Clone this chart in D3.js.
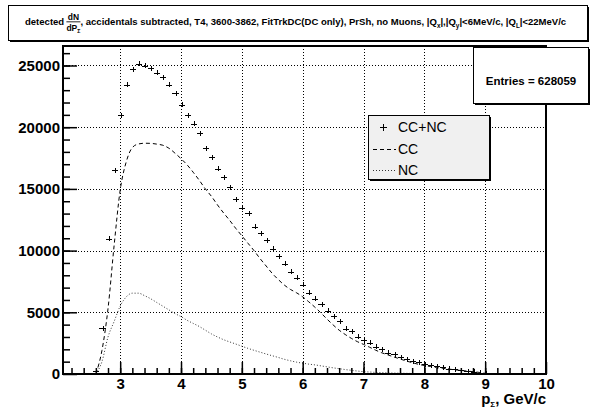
<!DOCTYPE html>
<html>
<head>
<meta charset="utf-8">
<script src="https://cdn.jsdelivr.net/npm/d3@7"></script>
<style>
  body { margin: 0; background: #fff; }
  svg { display: block; font-family: "Liberation Sans", Arial, Helvetica, sans-serif; }
</style>
</head>
<body>
<script>
// histogram binning (GeV/c): first bin centre and bin width
var binFirst = 2.61,
    binWidth = 0.1;

// CC+NC counts per bin, 2.6 ... 9.0 GeV/c
var ccnc = [270, 3700, 10960, 16520, 20960, 23430, 24700, 25160, 24970, 24770,
            24400, 24040, 23420, 22750, 21800, 20970, 20280, 19500, 18310, 17560,
            16650, 15950, 15140, 14180, 13480, 13020, 11940, 11400, 10830, 10150,
            9540, 8920, 8290, 7820, 7240, 6590, 6100, 5670, 5130, 4700,
            4290, 3670, 3460, 3020, 2755, 2540, 2210, 2025, 1725, 1620,
            1350, 1190, 1050, 950, 810, 700, 620, 530, 440, 370,
            300, 240, 190, 120, 50];

// CC (dashed) and NC (dotted) curves at the same momenta
var cc = [0, 1900, 5300, 10400, 14900, 17200, 18350, 18640, 18700, 18690,
          18630, 18540, 18300, 17900, 17450, 16950, 16350, 15700, 15000, 14400,
          13700, 13050, 12450, 11800, 11200, 10600, 10000, 9350, 8750, 8150,
          7650, 7200, 6850, 6580, 6250, 5850, 5420, 4950, 4450, 3980,
          3550, 3200, 2890, 2620, 2400, 2170, 1930, 1720, 1550, 1380,
          1220, 1060, 920, 790, 690, 610, 530, 460, 400, 340,
          290, 240, 190, 130, 50];

var nc = [0, 1000, 3000, 4250, 5500, 6250, 6550, 6550, 6350, 6100,
          5800, 5500, 5200, 4900, 4650, 4350, 4100, 3850, 3550, 3250,
          3000, 2780, 2600, 2430, 2250, 2080, 1920, 1770, 1620, 1480,
          1340, 1190, 1070, 960, 880, 800, 740, 660, 580, 500,
          430, 360, 300, 240, 190, 160, 130, 110, 90, 75,
          65, 55, 45, 35, 30, 25, 20, 15, 10, 8,
          5, 3, 2, 1, 0];

var xTicks = [3, 4, 5, 6, 7, 8, 9, 10];
var yTicks = [0, 5000, 10000, 15000, 20000, 25000];
var legendLabels = ["CC+NC", "CC", "NC"];
var entries = 628059;

var width = 596, height = 410;
var frame = {left: 63, right: 546, top: 46, bottom: 374};

var svg = d3.select("body").append("svg")
    .attr("width", width)
    .attr("height", height);

var x = d3.scaleLinear().domain([2.06, 10]).range([frame.left, frame.right]);
var y = d3.scaleLinear().domain([0, 26580]).range([frame.bottom, frame.top]);

var bins = ccnc.map(function(v, i) {
  return {c: binFirst + i * binWidth, v: v, cc: cc[i], nc: nc[i]};
});

//grid lines
var grid = svg.append("g").attr("shape-rendering", "crispEdges")
    .attr("stroke", "#000").attr("stroke-dasharray", "1,2").attr("stroke-width", 1);
grid.selectAll(".gx").data(xTicks.slice(0, -1)).enter().append("line")
    .attr("x1", function(d) { return Math.round(x(d)) + 0.5; })
    .attr("x2", function(d) { return Math.round(x(d)) + 0.5; })
    .attr("y1", frame.top).attr("y2", frame.bottom);
grid.selectAll(".gy").data(yTicks.slice(1)).enter().append("line")
    .attr("y1", function(d) { return Math.round(y(d)) + 0.5; })
    .attr("y2", function(d) { return Math.round(y(d)) + 0.5; })
    .attr("x1", frame.left).attr("x2", frame.right);

//curves
var line = function(key) {
  return d3.line()
    .x(function(d) { return x(d.c - 0.01); })
    .y(function(d) { return y(d[key]); })
    .curve(d3.curveMonotoneX);
};
svg.append("path").datum(bins)
    .attr("d", line("cc"))
    .attr("fill", "none").attr("stroke", "#000").attr("stroke-width", 1)
    .attr("stroke-dasharray", "4,3");
svg.append("path").datum(bins)
    .attr("d", line("nc"))
    .attr("fill", "none").attr("stroke", "#333").attr("stroke-width", 1)
    .attr("stroke-dasharray", "1,2");

//CC+NC points with bin-width bars
var pts = svg.append("g").attr("stroke", "#000").attr("stroke-width", 1)
    .attr("shape-rendering", "crispEdges");
pts.selectAll(".h").data(bins).enter().append("line")
    .attr("x1", function(d) { return x(d.c - binWidth / 2); })
    .attr("x2", function(d) { return x(d.c + binWidth / 2); })
    .attr("y1", function(d) { return Math.round(y(d.v)) + 0.5; })
    .attr("y2", function(d) { return Math.round(y(d.v)) + 0.5; });
pts.selectAll(".v").data(bins).enter().append("line")
    .attr("x1", function(d) { return Math.round(x(d.c)) + 0.5; })
    .attr("x2", function(d) { return Math.round(x(d.c)) + 0.5; })
    .attr("y1", function(d) { return Math.max(y(d.v) - 2.5, frame.top); })
    .attr("y2", function(d) { return Math.min(y(d.v) + 2.5, frame.bottom); });

//axes
var xAxis = d3.axisBottom(x).tickValues(xTicks).tickSize(-12).tickPadding(4)
    .tickFormat(d3.format("d"));
var xMinor = d3.axisBottom(x).tickValues(d3.range(2.2, 10, 0.2)).tickSize(-6).tickFormat("");
var yAxis = d3.axisLeft(y).tickValues(yTicks).tickSize(-14).tickPadding(3)
    .tickFormat(d3.format("d"));
var yMinor = d3.axisLeft(y).tickValues(d3.range(1000, 26580, 1000)).tickSize(-7).tickFormat("");

function styleAxis(g) {
  g.select(".domain").remove();
  g.selectAll("line").attr("stroke", "#000").attr("stroke-width", 1.5);
  g.selectAll("text").attr("fill", "#000").attr("font-size", 15).attr("font-weight", "bold")
    .attr("font-family", "'Liberation Sans', Arial, sans-serif");
}
svg.append("g").attr("transform", "translate(0," + frame.bottom + ")").call(xMinor).call(styleAxis);
svg.append("g").attr("transform", "translate(0," + frame.bottom + ")").call(xAxis).call(styleAxis);
svg.append("g").attr("transform", "translate(" + frame.left + ",0)").call(yMinor).call(styleAxis);
svg.append("g").attr("transform", "translate(" + frame.left + ",0)").call(yAxis).call(styleAxis);

//frame
svg.append("rect")
    .attr("x", frame.left).attr("y", frame.top)
    .attr("width", frame.right - frame.left).attr("height", frame.bottom - frame.top)
    .attr("fill", "none").attr("stroke", "#000").attr("stroke-width", 2);

//x axis title
var xt = svg.append("text").attr("x", frame.right).attr("y", 404)
    .attr("text-anchor", "end").attr("font-size", 15).attr("font-weight", "bold");
xt.append("tspan").text("p");
xt.append("tspan").attr("font-size", 8).attr("dy", 3).text("Σ");
xt.append("tspan").attr("dy", -3).text(", GeV/c");

//boxes with a shadow, ROOT style
function box(bx, by, bw, bh, fill) {
  svg.append("rect").attr("x", bx + 2).attr("y", by + 2).attr("width", bw).attr("height", bh)
      .attr("fill", "#000");
  svg.append("rect").attr("x", bx + 0.5).attr("y", by + 0.5).attr("width", bw).attr("height", bh)
      .attr("fill", fill).attr("stroke", "#000").attr("stroke-width", 1);
}

//title
box(8, 5, 579, 35, "#fff");
var tg = svg.append("g");
var fs = 9;
var t1 = tg.append("text").attr("x", 0).attr("y", 0)
    .attr("font-size", fs).attr("font-weight", "bold").text("detected");
var w1 = t1.node().getComputedTextLength() + 2;
var fN = tg.append("text").attr("y", -5).attr("font-size", 8).attr("font-weight", "bold")
    .attr("text-anchor", "middle").text("dN");
var fD = tg.append("text").attr("y", 5.5).attr("font-size", 8).attr("font-weight", "bold")
    .attr("text-anchor", "middle");
fD.append("tspan").text("dP");
fD.append("tspan").attr("font-size", 5).attr("dy", 2.5).text("Σ");
var fw = Math.max(fN.node().getComputedTextLength(), fD.node().getComputedTextLength());
fN.attr("x", w1 + fw / 2);
fD.attr("x", w1 + fw / 2);
tg.append("line").attr("x1", w1).attr("x2", w1 + fw).attr("y1", -3).attr("y2", -3)
    .attr("stroke", "#000").attr("stroke-width", 0.8);
var t2 = tg.append("text").attr("x", w1 + fw).attr("y", 0)
    .attr("font-size", fs).attr("font-weight", "bold");
var parts = [[", accidentals subtracted, T4, 3600-3862, FitTrkDC(DC only), PrSh, no Muons, |Q", 0],
             ["x", 1], ["|,|Q", 0], ["y", 1], ["|<6MeV/c, |Q", 0], ["L", 1], ["|<22MeV/c", 0]];
var prevSub = 0;
parts.forEach(function(p) {
  var ts = t2.append("tspan").text(p[0]);
  if (p[1]) { ts.attr("font-size", 6).attr("dy", 3); prevSub = 1; }
  else if (prevSub) { ts.attr("dy", -3); prevSub = 0; }
});
var tw = w1 + fw + t2.node().getComputedTextLength();
var sc = 542 / tw;
tg.attr("transform", "translate(" + (296 - tw * sc / 2) + ",25) scale(" + sc + ")");

//stats box
box(473, 47, 115, 56, "#fff");
svg.append("text").attr("x", 531).attr("y", 85).attr("text-anchor", "middle")
    .attr("font-size", 11.5).attr("font-weight", "bold")
    .text("Entries = " + entries);

//legend
box(368, 115, 121, 64, "#f0f0f0");
var leg = svg.append("g");
var rowY = [127, 149, 170];
leg.selectAll("text").data(legendLabels).enter().append("text")
    .attr("x", 398).attr("y", function(d, i) { return rowY[i] + 5; })
    .attr("font-size", 14).text(function(d) { return d; });
leg.append("line").attr("x1", 380).attr("x2", 387).attr("y1", rowY[0] + 0.5).attr("y2", rowY[0] + 0.5)
    .attr("stroke", "#000").attr("shape-rendering", "crispEdges");
leg.append("line").attr("x1", 383.5).attr("x2", 383.5).attr("y1", rowY[0] - 3).attr("y2", rowY[0] + 4)
    .attr("stroke", "#000").attr("shape-rendering", "crispEdges");
leg.append("line").attr("x1", 373).attr("x2", 396).attr("y1", rowY[1] + 0.5).attr("y2", rowY[1] + 0.5)
    .attr("stroke", "#000").attr("stroke-dasharray", "4,3");
leg.append("line").attr("x1", 373).attr("x2", 396).attr("y1", rowY[2] + 0.5).attr("y2", rowY[2] + 0.5)
    .attr("stroke", "#333").attr("stroke-dasharray", "1,2");
</script>
</body>
</html>
